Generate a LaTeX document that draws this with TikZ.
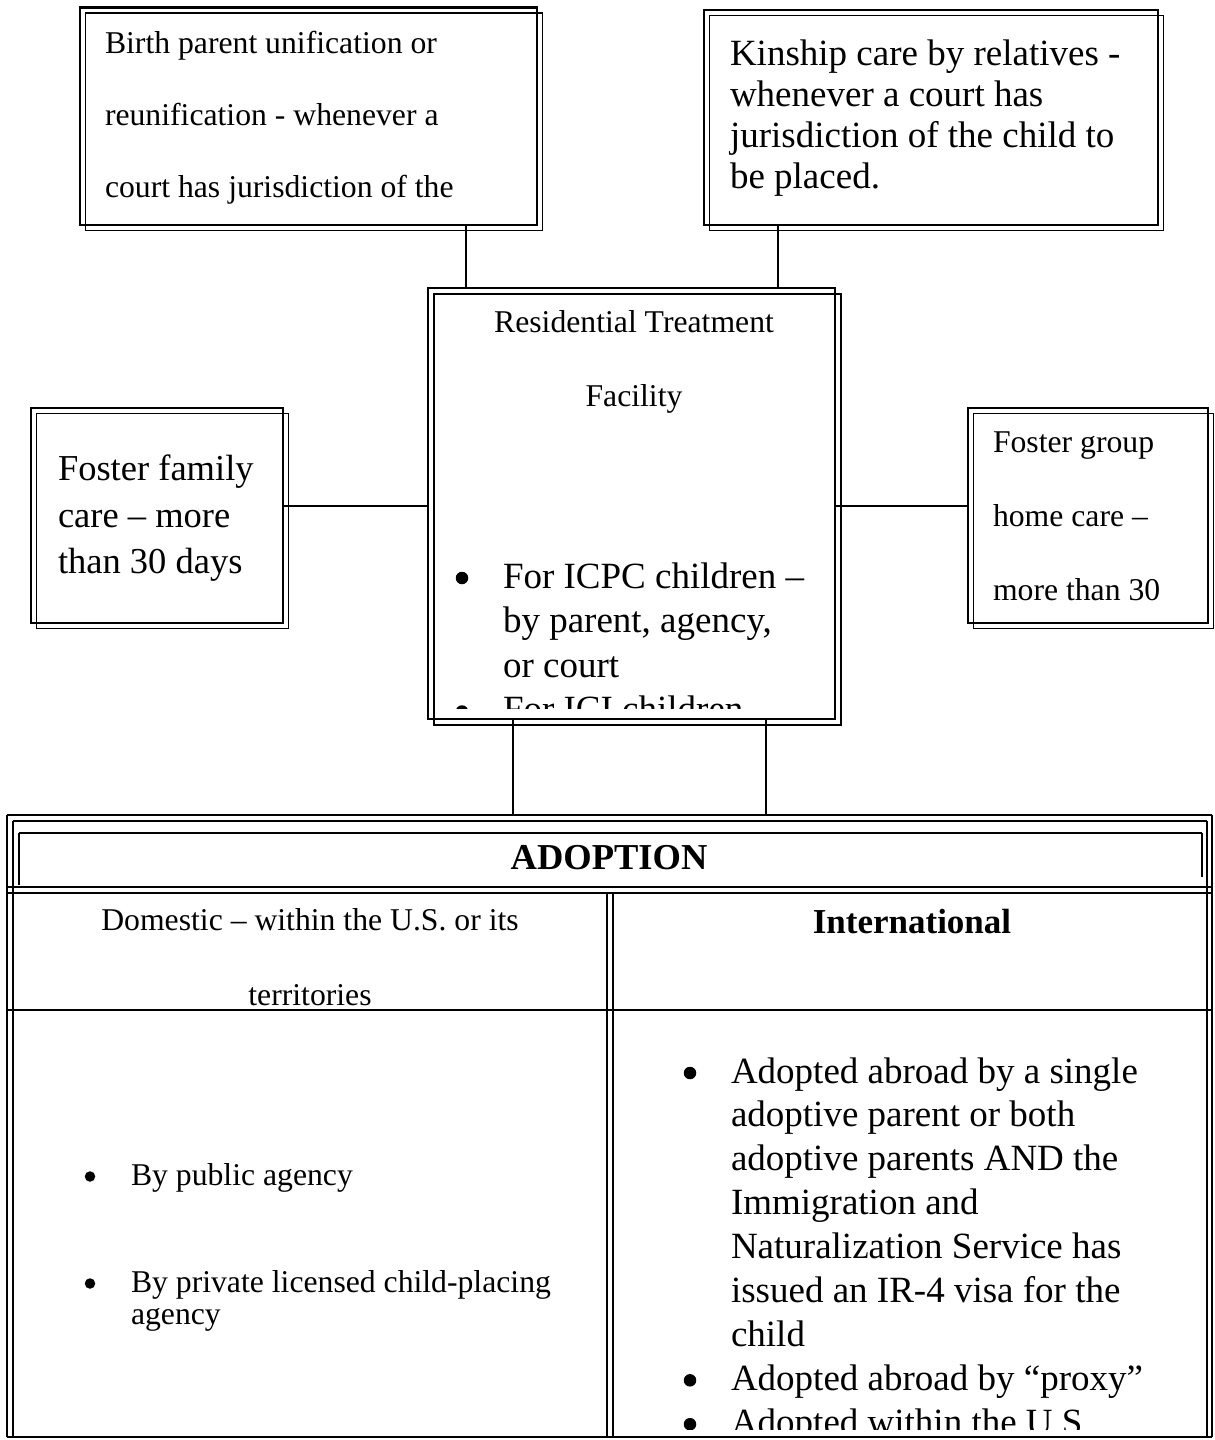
\documentclass[tikz,border=0pt]{standalone}
\usepackage{fontspec}
\setmainfont{Liberation Serif}
\newcommand\fntA{\fontsize{31.7}{38}\selectfont}
\newcommand\fntB{\fontsize{37}{44}\selectfont}
\newcommand\fntF{\fontsize{36.5}{44}\selectfont}
\newcommand\mydblbox[1]{\draw[thinln] ([shift={(5.5,5.5)}]#1.north west) rectangle ([shift={(5.5,5.5)}]#1.south east);}
\begin{document}
\begin{tikzpicture}[x=1pt,y=-1pt,
  thickln/.style={line width=2.8pt},
  thinln/.style={line width=1.6pt},
  conn/.style={line width=1.5pt},
  boxn/.style={draw, line width=2.8pt, inner sep=0pt, outer sep=0pt},
  txt/.style={anchor=base west, inner sep=0pt, outer sep=0pt},
  ctxt/.style={anchor=base, inner sep=0pt, outer sep=0pt},
  bigdot/.style={circle, fill=black, draw=none, inner sep=0pt, outer sep=0pt, minimum size=12.5pt},
  smalldot/.style={circle, fill=black, draw=none, inner sep=0pt, outer sep=0pt, minimum size=10.5pt}]
\useasboundingbox (0,0) rectangle (1215,1440);
\fill[white] (0,0) rectangle (1215,1440);

% ---------- boxes ----------
\node[boxn, minimum width=457pt, minimum height=217.5pt] (tl) at (308.5,116.25) {};
\mydblbox{tl}
\node[boxn, minimum width=454pt, minimum height=215pt] (kin) at (931,117.5) {};
\mydblbox{kin}
\node[boxn, minimum width=407pt, minimum height=431pt] (ctr) at (631.5,503.5) {};
\draw[thinln] ([shift={(6,6)}]ctr.north west) rectangle ([shift={(6,6)}]ctr.south east);
\node[boxn, minimum width=252pt, minimum height=215pt] (ff) at (157,515.5) {};
\mydblbox{ff}
\node[boxn, minimum width=240pt, minimum height=215pt] (fg) at (1088,515.5) {};
\mydblbox{fg}

% ---------- texts in boxes ----------
\node[txt, font=\fntA] (tl1) at (105,53) {Birth parent unification or};
\node[txt, font=\fntA] (tl2) at (105,125) {reunification - whenever a};
\node[txt, font=\fntA] (tl3) at (105,197) {court has jurisdiction of the};

\node[txt, font=\fntB] (kin1) at (730,65) {Kinship care by relatives -};
\node[txt, font=\fntB] (kin2) at (730,106) {whenever a court has};
\node[txt, font=\fntB] (kin3) at (730,147) {jurisdiction of the child to};
\node[txt, font=\fntB] (kin4) at (730,188) {be placed.};

\node[ctxt, font=\fntA] (rt1) at (634,332) {Residential Treatment};
\node[ctxt, font=\fntA] (rt2) at (634,406) {Facility};
\begin{scope}
\clip (436,296) rectangle (833,708);
\node[bigdot] (cb1) at (462,578) {};
\node[txt, font=\fntB] (c1) at (503,588) {For ICPC children –};
\node[txt, font=\fntB] (c2) at (503,632.5) {by parent, agency,};
\node[txt, font=\fntB] (c3) at (503,677) {or court};
\node[bigdot] (cb2) at (462,711.5) {};
\node[txt, font=\fntB] (c4) at (503,721.5) {For ICI children};
\end{scope}

\node[txt, font=\fntF] (ff1) at (58,480) {Foster family};
\node[txt, font=\fntF] (ff2) at (58,527) {care – more};
\node[txt, font=\fntF] (ff3) at (58,573) {than 30 days};

\node[txt, font=\fntA] (fg1) at (993,452) {Foster group};
\node[txt, font=\fntA] (fg2) at (993,526) {home care –};
\node[txt, font=\fntA] (fg3) at (993,600) {more than 30};

% ---------- table ----------
\node[inner sep=0pt, outer sep=0pt, minimum width=1205pt, minimum height=622pt] (tbl) at (609.5,1126) {};
\draw[thickln] (7,815) -- (1212,815);
\draw[thinln] (13,821) -- (1207,821);
\draw[thinln] (7,815) -- (7,1437);
\draw[thinln] (13,821) -- (13,1437);
\draw[thinln] (1207,821) -- (1207,1437);
\draw[thinln] (1212,815) -- (1212,1437);
\draw[line width=2pt] (19,833) -- (1202,833);
\draw[thinln] (19,833) -- (19,885);
\draw[thinln] (1202,833) -- (1202,877);
\draw[thickln] (7,887) -- (1212,887);
\draw[thinln] (7,893) -- (1212,893);
\draw[thinln] (607,893) -- (607,1437);
\draw[thinln] (613,893) -- (613,1437);
\draw[line width=1.7pt] (7,1010) -- (1212,1010);
\draw[line width=1.7pt] (7,1437) -- (1212,1437);

\node[ctxt, font=\fntF\bfseries] (adopt) at (609,869) {ADOPTION};
\node[ctxt, font=\fntA] (dom1) at (310,930) {Domestic – within the U.S. or its};
\node[ctxt, font=\fntA] (dom2) at (310,1005) {territories};
\node[ctxt, font=\fontsize{35}{42}\selectfont\bfseries] (intl) at (912,933) {International};

\node[smalldot] (lb1) at (90,1176.5) {};
\node[txt, font=\fntA] (l1) at (131,1185) {By public agency};
\node[smalldot] (lb2) at (90,1283.5) {};
\node[txt, font=\fntA] (l2) at (131,1292) {By private licensed child-placing};
\node[txt, font=\fntA] (l3) at (131,1324) {agency};

\begin{scope}
\clip (615,1012) rectangle (1205,1429);
\node[bigdot] (rb1) at (690,1073) {};
\node[txt, font=\fntB] (r0) at (731,1083) {Adopted abroad by a single};
\node[txt, font=\fntB] (r1) at (731,1126.9) {adoptive parent or both};
\node[txt, font=\fntB] (r2) at (731,1170.8) {adoptive parents AND the};
\node[txt, font=\fntB] (r3) at (731,1214.7) {Immigration and};
\node[txt, font=\fntB] (r4) at (731,1258.6) {Naturalization Service has};
\node[txt, font=\fntB] (r5) at (731,1302.5) {issued an IR-4 visa for the};
\node[txt, font=\fntB] (r6) at (731,1346.4) {child};
\node[bigdot] (rb2) at (690,1380.3) {};
\node[txt, font=\fntB] (r7) at (731,1390.3) {Adopted abroad by “proxy”};
\node[bigdot] (rb3) at (690,1424.2) {};
\node[txt, font=\fntB] (r8) at (731,1434.2) {Adopted within the U.S.};
\end{scope}

% ---------- connectors ----------
\coordinate (v1) at (466,0);
\coordinate (v2) at (778,0);
\coordinate (v3) at (513,0);
\coordinate (v4) at (766,0);
\coordinate (hy) at (0,506);
\draw[conn] (tl.south -| v1) -- (ctr.north -| v1);
\draw[conn] (kin.south -| v2) -- (ctr.north -| v2);
\draw[conn] (ff.east |- hy) -- (ctr.west |- hy);
\draw[conn] (ctr.east |- hy) -- (fg.west |- hy);
\draw[conn] (ctr.south -| v3) -- (tbl.north -| v3);
\draw[conn] (ctr.south -| v4) -- (tbl.north -| v4);
\end{tikzpicture}
\end{document}
